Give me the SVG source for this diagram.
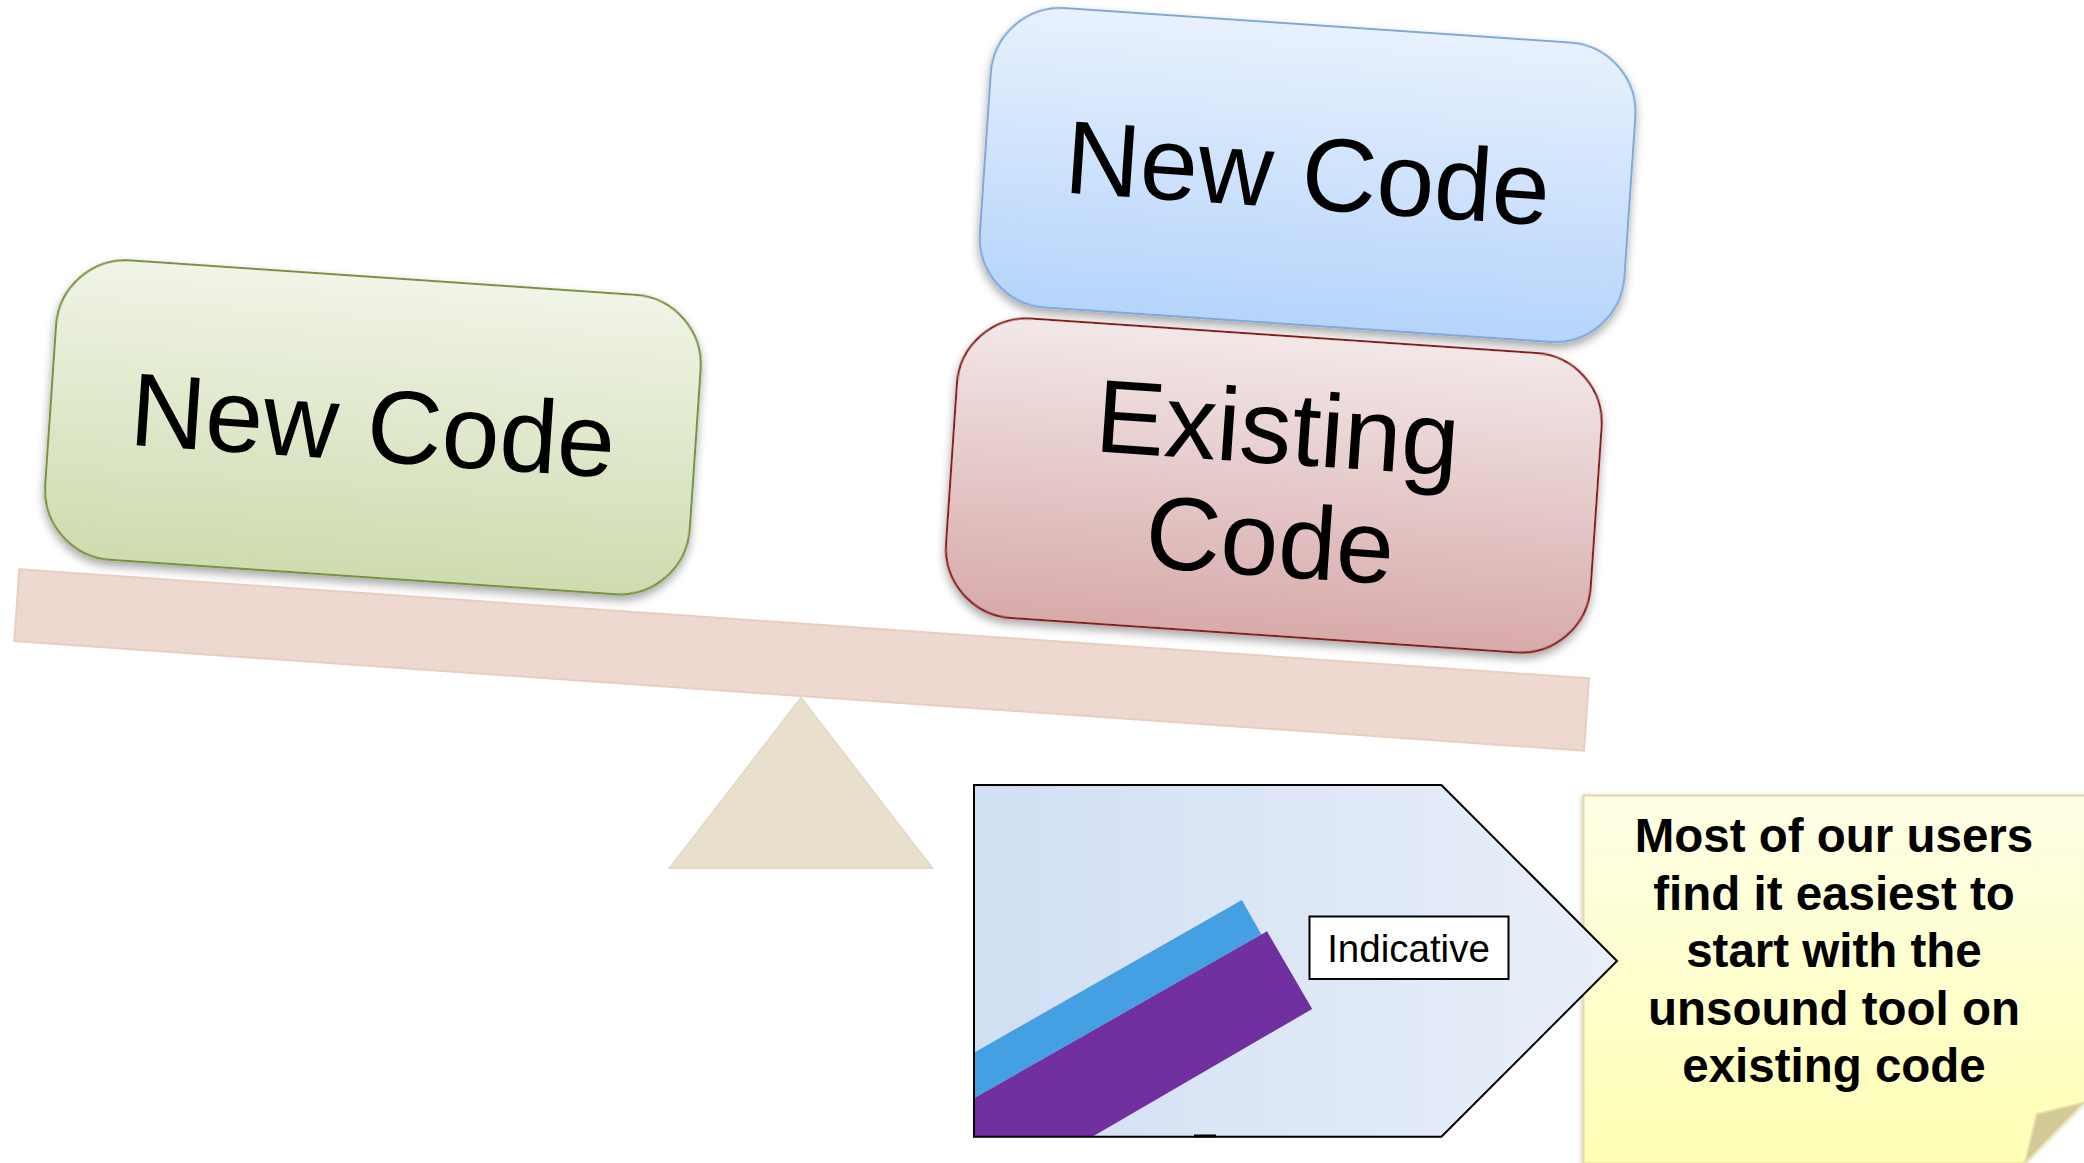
<svg xmlns="http://www.w3.org/2000/svg" width="2084" height="1163" viewBox="0 0 2084 1163">
  <style>
    .box-text { font-family: "Liberation Sans", Arial, sans-serif; font-size: 104px; fill: #000; text-anchor: middle; }
    .note-text { font-family: "Liberation Sans", Arial, sans-serif; font-size: 47.5px; font-weight: bold; fill: #000; text-anchor: middle; }
    .small-text { font-family: "Liberation Sans", Arial, sans-serif; font-size: 38.5px; fill: #000; text-anchor: middle; }
  </style>
  <defs>
    <linearGradient id="gGreen" x1="0" y1="0" x2="0" y2="1">
      <stop offset="0" stop-color="#F1F4E7"/>
      <stop offset="1" stop-color="#CEDCAF"/>
    </linearGradient>
    <linearGradient id="gBlue" x1="0" y1="0" x2="0" y2="1">
      <stop offset="0" stop-color="#E8F1FD"/>
      <stop offset="1" stop-color="#B5D4FB"/>
    </linearGradient>
    <linearGradient id="gRed" x1="0" y1="0" x2="0" y2="1">
      <stop offset="0" stop-color="#F3E8E8"/>
      <stop offset="1" stop-color="#D8AAAA"/>
    </linearGradient>
    <linearGradient id="gPent" x1="0" y1="0" x2="1" y2="0">
      <stop offset="0" stop-color="#D1DFF3"/>
      <stop offset="1" stop-color="#E9EFF9"/>
    </linearGradient>
    <linearGradient id="gNote" x1="0" y1="0" x2="0" y2="1">
      <stop offset="0" stop-color="#FEFEE6"/>
      <stop offset="1" stop-color="#FFFFB5"/>
    </linearGradient>
    <filter id="shadow" x="-10%" y="-10%" width="120%" height="130%">
      <feDropShadow dx="0" dy="5" stdDeviation="5" flood-color="#000" flood-opacity="0.35"/>
    </filter>
    <filter id="noteShadow" x="-10%" y="-10%" width="120%" height="120%">
      <feDropShadow dx="-1" dy="1" stdDeviation="2" flood-color="#000" flood-opacity="0.2"/>
    </filter>
  </defs>

  <g id="beam">
    <polygon points="19.3,569.3 1589,678.3 1584,750.7 14.3,641" fill="#EDD9D0" stroke="#EACDC2" stroke-width="2"/>
  </g>

  <g id="fulcrum">
    <polygon points="801,697.5 932.6,868.3 669.4,868.3" fill="#E8DFCC" stroke="#E3D8C3" stroke-width="1.5"/>
  </g>

  <g id="new-code-left" transform="translate(372.9,427.3) rotate(3.9)">
    <rect x="-323" y="-150" width="646" height="300" rx="70" ry="70" fill="url(#gGreen)" stroke="#76923C" stroke-width="2" filter="url(#shadow)"/>
    <text class="box-text" x="0" y="34">New Code</text>
  </g>

  <g id="existing-code" transform="translate(1273.8,485.5) rotate(3.9)">
    <rect x="-323" y="-150" width="646" height="300" rx="70" ry="70" fill="url(#gRed)" stroke="#8B1A1A" stroke-width="2" filter="url(#shadow)"/>
    <text class="box-text" x="0" y="-22">Existing</text>
    <text class="box-text" x="0" y="90.5">Code</text>
  </g>

  <g id="new-code-top" transform="translate(1307.6,175) rotate(3.9)">
    <rect x="-323" y="-150" width="646" height="300" rx="70" ry="70" fill="url(#gBlue)" stroke="#7FA7D8" stroke-width="2" filter="url(#shadow)"/>
    <text class="box-text" x="0" y="34">New Code</text>
  </g>

  <g id="note">
    <polygon points="1583.5,795.5 2090,795.5 2090,1096 2023.5,1163.5 1583.5,1163.5" fill="url(#gNote)" stroke="#E2D99C" stroke-width="2" filter="url(#noteShadow)"/>
    <polygon points="2036.7,1114 2084,1102.5 2025,1163" fill="#D3CB97" stroke="#E8DFA6" stroke-width="2"/>
    <text class="note-text" x="1834" y="852">Most of our users</text>
    <text class="note-text" x="1834" y="909.5">find it easiest to</text>
    <text class="note-text" x="1834" y="967">start with the</text>
    <text class="note-text" x="1834" y="1024.5">unsound tool on</text>
    <text class="note-text" x="1834" y="1082">existing code</text>
  </g>

  <g id="indicative-panel">
    <polygon points="974,785 1441.4,785 1617,961 1441.4,1136.7 974,1136.7" fill="url(#gPent)"/>
    <polygon points="974,1052.7 1241.9,900 1261.4,934.4 974,1098.3" fill="#44A0E3"/>
    <polygon points="974,1098.3 1267,931.3 1312.2,1009 1092.3,1136.7 974,1136.7" fill="#7030A0"/>
    <polygon points="974,785 1441.4,785 1617,961 1441.4,1136.7 974,1136.7" fill="none" stroke="#000" stroke-width="2"/>
    <rect x="1194" y="1134.5" width="22" height="3" fill="#000"/>
    <rect x="1309.5" y="916.5" width="199" height="62.5" fill="#FFFFFF" stroke="#000" stroke-width="2"/>
    <text class="small-text" x="1408.5" y="962">Indicative</text>
  </g>

  <g id="connectors"></g>
</svg>
